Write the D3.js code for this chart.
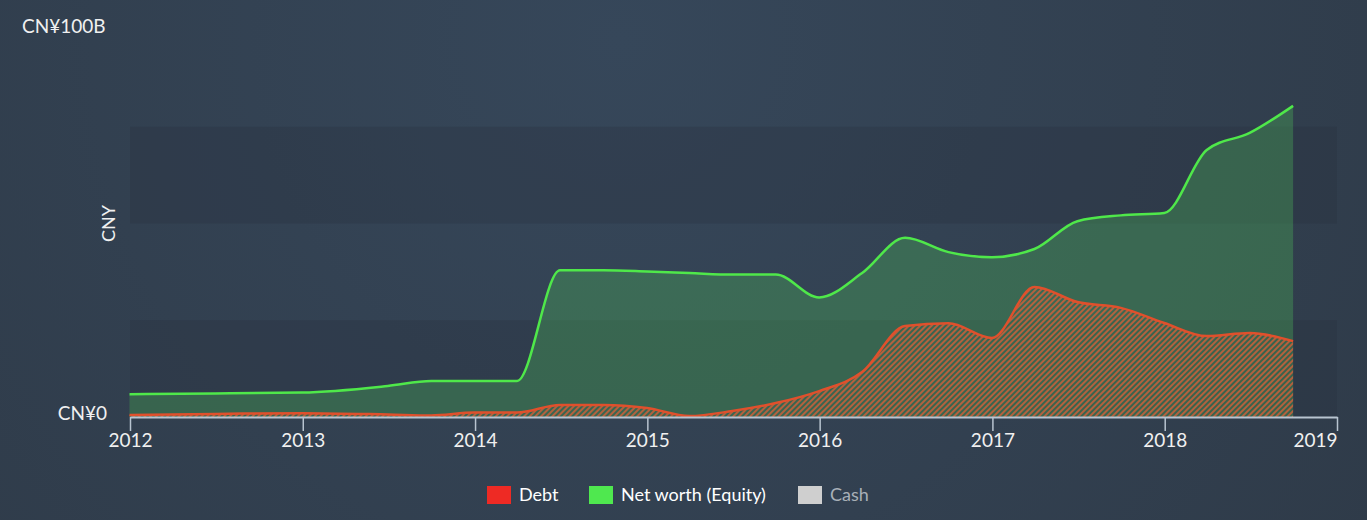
<!DOCTYPE html>
<html>
<head>
<meta charset="utf-8">
<script src="https://cdn.jsdelivr.net/npm/d3@7"></script>
<style>
  html, body { margin: 0; padding: 0; }
  body { width: 1367px; height: 520px; overflow: hidden; background: #323f4f; }
  svg text { font-family: "Lato", "Open Sans", sans-serif; }
</style>
</head>
<body>
<div id="chart"></div>
<script>
const dates = ["2011-12-31", "2012-06-30", "2012-12-31", "2013-06-30", "2013-09-30", "2013-12-31",
  "2014-03-31", "2014-06-30", "2014-09-30", "2014-12-31", "2015-03-31", "2015-06-30",
  "2015-09-30", "2015-12-31", "2016-03-31", "2016-06-30", "2016-09-30", "2016-12-31",
  "2017-03-31", "2017-06-30", "2017-09-30", "2017-12-31", "2018-03-31", "2018-06-30", "2018-09-30"];

// values in CNY billions
const equity = [5.9, 6.1, 6.3, 8.0, 9.3, 9.3, 9.3, 37.9, 37.9, 37.6, 37.2, 36.8,
  36.8, 30.9, 37.2, 46.3, 42.6, 41.3, 43.4, 50.6, 52.1, 52.7, 69.0, 73.4, 80.4];
const debt = [0.5, 0.8, 1.0, 0.65, 0.4, 1.15, 1.15, 3.1, 3.1, 2.3, 0.25, 1.55,
  3.6, 6.7, 11.6, 23.5, 24.2, 20.4, 33.6, 29.7, 28.2, 24.3, 20.9, 21.7, 19.6];

const yearTicks = [2012, 2013, 2014, 2015, 2016, 2017, 2018, 2019];
const bandStarts = [0, 50];   // shaded 25B bands
const legendItems = [
  { label: "Debt", color: "#ee2a24", text: "#ffffff" },
  { label: "Net worth (Equity)", color: "#4fe84f", text: "#ffffff" },
  { label: "Cash", color: "#cfcfcf", text: "#a9b0b8" }
];

const width = 1367, height = 520;
const parse = d3.timeParse("%Y-%m-%d");
const data = dates.map((d, i) => ({ date: parse(d), equity: equity[i], debt: debt[i] }));

const svg = d3.select("#chart").append("svg")
  .attr("width", width)
  .attr("height", height);

const defs = svg.append("defs");
const bg = defs.append("radialGradient")
  .attr("id", "bg")
  .attr("gradientUnits", "userSpaceOnUse")
  .attr("cx", 620).attr("cy", 40).attr("r", 900);
bg.append("stop").attr("offset", "0%").attr("stop-color", "#36475a");
bg.append("stop").attr("offset", "100%").attr("stop-color", "#2f3b49");

const hatch = defs.append("pattern")
  .attr("id", "hatch")
  .attr("patternUnits", "userSpaceOnUse")
  .attr("width", 4).attr("height", 4)
  .attr("patternTransform", "rotate(45)");
hatch.append("rect")
  .attr("width", 2).attr("height", 4)
  .attr("fill", "#d2603a")
  .attr("opacity", 0.8);

svg.append("rect")
  .attr("width", width).attr("height", height)
  .attr("fill", "url(#bg)");

const xScale = d3.scaleTime()
  .domain([new Date(2012, 0, 1), new Date(2019, 0, 1)])
  .range([130, 1337]);

const yScale = d3.scaleLinear()
  .domain([0, 100])
  .range([417, 30]);

// alternating bands
svg.append("g").selectAll("rect")
  .data(bandStarts)
  .join("rect")
  .attr("x", xScale.range()[0])
  .attr("width", xScale.range()[1] - xScale.range()[0])
  .attr("y", d => yScale(d + 25))
  .attr("height", d => yScale(d) - yScale(d + 25))
  .attr("fill", "#26303d")
  .attr("opacity", 0.28);

const curve = d3.curveMonotoneX;

// equity area
svg.append("path")
  .datum(data)
  .attr("d", d3.area().curve(curve)
    .x(d => xScale(d.date))
    .y0(yScale(0))
    .y1(d => yScale(d.equity)))
  .attr("fill", "#4fc65a")
  .attr("opacity", 0.3);

// debt hatched area
svg.append("path")
  .datum(data)
  .attr("d", d3.area().curve(curve)
    .x(d => xScale(d.date))
    .y0(yScale(0))
    .y1(d => yScale(d.debt)))
  .attr("fill", "url(#hatch)");

svg.append("path")
  .datum(data)
  .attr("d", d3.line().curve(curve)
    .x(d => xScale(d.date))
    .y(d => yScale(d.equity)))
  .attr("fill", "none")
  .attr("stroke", "#4fe84a")
  .attr("stroke-width", 2.5);

svg.append("path")
  .datum(data)
  .attr("d", d3.line().curve(curve)
    .x(d => xScale(d.date))
    .y(d => yScale(d.debt)))
  .attr("fill", "none")
  .attr("stroke", "#e0502c")
  .attr("stroke-width", 2.5);

// x axis
const xAxis = svg.append("g")
  .attr("transform", `translate(0, ${yScale(0)})`)
  .call(d3.axisBottom(xScale)
    .tickValues(yearTicks.map(y => new Date(y, 0, 1)))
    .tickFormat(d3.timeFormat("%Y"))
    .tickSize(14)
    .tickSizeOuter(0)
    .tickPadding(3));
xAxis.select(".domain").attr("stroke", "#b8c4d0").attr("stroke-width", 2);
xAxis.selectAll(".tick line").attr("stroke", "#b8c4d0").attr("stroke-width", 1.5);
xAxis.selectAll(".tick text")
  .attr("fill", "#f0f0f0")
  .style("font-size", "19px")
  .style("font-family", "Lato, 'Open Sans', sans-serif");
// last year label sits left of its tick
xAxis.selectAll(".tick text")
  .filter((d, i, nodes) => i === nodes.length - 1)
  .attr("text-anchor", "end")
  .attr("x", 0);

// y labels
svg.append("text")
  .attr("x", 22).attr("y", 33)
  .attr("fill", "#f0f0f0")
  .style("font-size", "19px")
  .text("CN¥100B");

svg.append("text")
  .attr("x", 107).attr("y", yScale(0) + 3)
  .attr("text-anchor", "end")
  .attr("fill", "#f0f0f0")
  .style("font-size", "19px")
  .text("CN¥0");

svg.append("text")
  .attr("transform", `translate(115, ${yScale(50)}) rotate(-90)`)
  .attr("text-anchor", "middle")
  .attr("fill", "#f0f0f0")
  .style("font-size", "18px")
  .text("CNY");

// legend
const legendX = [487, 589, 798];
const legend = svg.append("g").selectAll("g")
  .data(legendItems)
  .join("g")
  .attr("transform", (d, i) => `translate(${legendX[i]}, 486)`);
legend.append("rect")
  .attr("width", 24).attr("height", 18)
  .attr("fill", d => d.color);
legend.append("text")
  .attr("x", 32).attr("y", 15)
  .attr("fill", d => d.text)
  .style("font-size", "18px")
  .text(d => d.label);
</script>
</body>
</html>
